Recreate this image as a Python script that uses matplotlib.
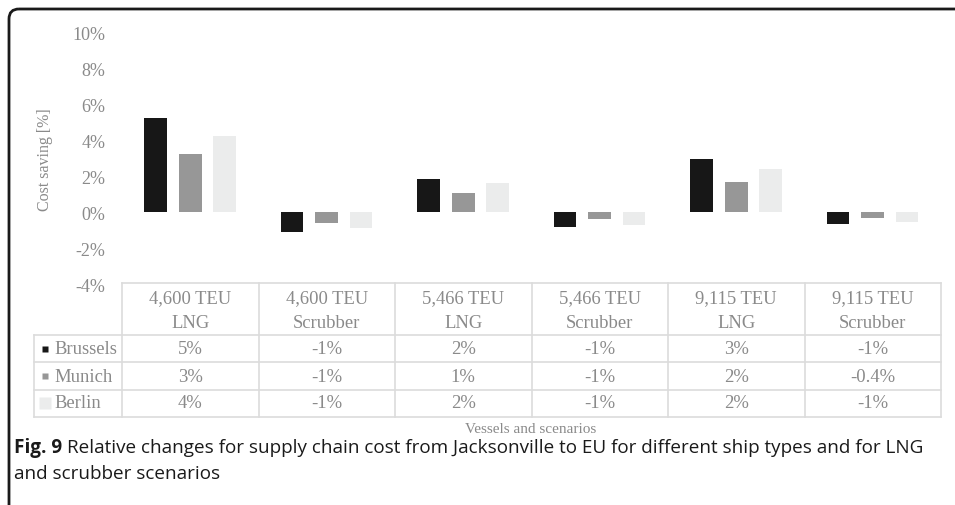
import matplotlib
matplotlib.use("Agg")
import matplotlib.pyplot as plt
from matplotlib.patches import FancyBboxPatch
from matplotlib.transforms import blended_transform_factory
import numpy as np

# ---------------- data ----------------
categories_top = ["4,600 TEU", "4,600 TEU", "5,466 TEU", "5,466 TEU", "9,115 TEU", "9,115 TEU"]
categories_bottom = ["LNG", "Scrubber", "LNG", "Scrubber", "LNG", "Scrubber"]
series_names = ["Brussels", "Munich", "Berlin"]
brussels = [5.2, -1.1, 1.85, -0.85, 2.95, -0.65]
munich = [3.2, -0.6, 1.05, -0.4, 1.65, -0.35]
berlin = [4.25, -0.9, 1.6, -0.7, 2.4, -0.55]
brussels_labels = ["5%", "-1%", "2%", "-1%", "3%", "-1%"]
munich_labels = ["3%", "-1%", "1%", "-1%", "2%", "-0.4%"]
berlin_labels = ["4%", "-1%", "2%", "-1%", "2%", "-1%"]
yticks = [-4, -2, 0, 2, 4, 6, 8, 10]
ytick_labels = ["-4%", "-2%", "0%", "2%", "4%", "6%", "8%", "10%"]
colors = ["#171717", "#979797", "#EBECEC"]

W, H = 955, 506
fig = plt.figure(figsize=(W / 100, H / 100), dpi=100)

serif = ["Liberation Serif", "DejaVu Serif"]
gray_txt = "#8a8a8a"
grid_col = "#dcdcdc"
fs_tab = 13.4

# overlay axes in pixel coordinates (for table / frame)
ov = fig.add_axes([0, 0, 1, 1])
ov.set_xlim(0, W)
ov.set_ylim(H, 0)
ov.axis("off")

# bar axes
x_left, x_right = 122, 941
y_top, y_bot = 33, 285
ax = fig.add_axes([x_left / W, (H - y_bot) / H, (x_right - x_left) / W, (y_bot - y_top) / H])
x = np.arange(len(categories_top))
bw = 0.165
offsets = [-0.255, 0.0, 0.25]
for vals, off, c in zip([brussels, munich, berlin], offsets, colors):
    ax.bar(x + off, vals, width=bw, color=c, edgecolor="none")
ax.set_xlim(-0.5, len(x) - 0.5)
ax.set_ylim(-4, 10)
ax.set_yticks(yticks)
ax.set_yticklabels(ytick_labels, fontfamily=serif, fontsize=13, color=gray_txt)
ax.tick_params(axis="y", length=0, pad=12)
ax.set_xticks([])
for s in ax.spines.values():
    s.set_visible(False)
ax.set_facecolor("none")

# y label
ov.text(45, 160, "Cost saving [%]", rotation=90, ha="center", va="center",
        fontfamily=serif, fontsize=11.5, color=gray_txt)

# ------------- data table -------------
tr = blended_transform_factory(ax.transData, ov.transData)
col_edges = np.arange(len(x) + 1) - 0.5
unit = (x_right - x_left) / len(x)
label_left = -0.5 - (122 - 34) / unit
y_head_top = 284
row_lines = [336, 363, 391, 418]

ov.plot([col_edges[0], col_edges[-1]], [y_head_top, y_head_top], transform=tr, color=grid_col, lw=1.2, clip_on=False)
for yl in row_lines:
    ov.plot([label_left, col_edges[-1]], [yl, yl], transform=tr, color=grid_col, lw=1.2, clip_on=False)
for xe in col_edges:
    ov.plot([xe, xe], [y_head_top, row_lines[-1]], transform=tr, color=grid_col, lw=1.2, clip_on=False)
ov.plot([label_left, label_left], [row_lines[0], row_lines[-1]], transform=tr, color=grid_col, lw=1.2, clip_on=False)

for i in range(len(x)):
    ov.text(x[i], 299, categories_top[i], transform=tr, ha="center", va="center",
            fontfamily=serif, fontsize=fs_tab, color=gray_txt)
    ov.text(x[i], 324, categories_bottom[i], transform=tr, ha="center", va="center",
            fontfamily=serif, fontsize=fs_tab, color=gray_txt)

row_y = [350, 377, 404]
for name, labels, c, ry, ms in zip(series_names, [brussels_labels, munich_labels, berlin_labels],
                                   colors, row_y, [4, 4, 8]):
    ov.plot([45], [ry], marker="s", ms=ms, color=c, mec="none", linestyle="none")
    ov.text(54, ry, name, ha="left", va="center", fontfamily=serif, fontsize=fs_tab, color=gray_txt)
    for i in range(len(x)):
        ov.text(x[i], ry, labels[i], transform=tr, ha="center", va="center",
                fontfamily=serif, fontsize=fs_tab, color=gray_txt)

ov.text(531, 430, "Vessels and scenarios", ha="center", va="center",
        fontfamily=serif, fontsize=11, color=gray_txt)

# ------------- frame -------------
frame = FancyBboxPatch((9, 10), W + 40, H + 40, boxstyle="round,pad=0,rounding_size=10",
                       fill=False, ec="#1a1a1a", lw=2.0, clip_on=False)
ov.add_patch(frame)

# ------------- caption -------------
sans = ["Open Sans", "Noto Sans", "DejaVu Sans"]
fs_cap = 13.6
t1 = ov.text(14, 453, "Fig. 9", ha="left", va="baseline", fontfamily=sans, fontsize=fs_cap,
             fontweight="bold", color="#1a1a1a")
fig.canvas.draw()
bb = t1.get_window_extent()
x_after = bb.x1 + 5
ov.text(x_after, 453, "Relative changes for supply chain cost from Jacksonville to EU for different ship types and for LNG",
        ha="left", va="baseline", fontfamily=sans, fontsize=fs_cap, color="#1a1a1a")
ov.text(14, 479, "and scrubber scenarios", ha="left", va="baseline", fontfamily=sans,
        fontsize=fs_cap, color="#1a1a1a")

fig.savefig("out.png", dpi=100)
